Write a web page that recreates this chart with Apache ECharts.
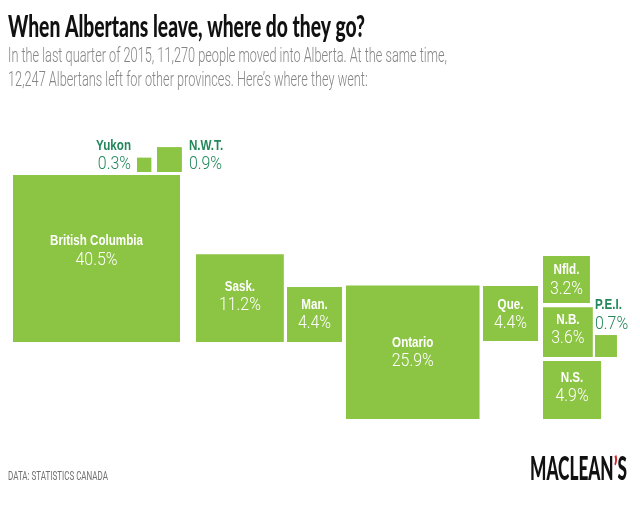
<!DOCTYPE html>
<html><head><meta charset="utf-8">
<script src="https://cdn.jsdelivr.net/npm/echarts@6/dist/echarts.min.js"></script>
<style>html,body{margin:0;padding:0;background:#fff}#c{width:640px;height:507px}</style>
</head><body><div id="c"></div>
<script>
// ---- data ----
const provinces = ['British Columbia','Yukon','N.W.T.','Sask.','Man.','Ontario','Que.','Nfld.','N.B.','P.E.I.','N.S.'];
const shares = [40.5, 0.3, 0.9, 11.2, 4.4, 25.9, 4.4, 3.2, 3.6, 0.7, 4.9];

// ---- layout (square anchor: left edge, bottom edge, in pixel-like axis units) ----
const anchors = [[13,342],[137,172],[157,172],[196,342],[287,342],[346,419],[483,341],[543,303],[543,357],[595,357],[543,419]];
const labelSide = ['in','left','right','in','in','in','in','in','in','top','in'];
const labelShift = [-8,0,0,-2,0,0,1,0,-3,0,-3];

const GREEN = '#8cc443', DARK = '#23875b';
const K = 26.24; // side length per sqrt(percent)

const ctx = document.createElement('canvas').getContext('2d');
function tw(t, font){ ctx.font = font; return ctx.measureText(t).width; }

const NAME_FONT = 'bold 15px "Liberation Sans", Arial, sans-serif';
const PCT_FONT = '300 18px Roboto, "Liberation Sans", sans-serif';
const TITLE_FONT = '900 31px Lato, "Liberation Sans", sans-serif';
const SUB_FONT = '300 19.5px Roboto, "Liberation Sans", sans-serif';
const FOOT_FONT = '400 12px Roboto, "Liberation Sans", sans-serif';
const LOGO_FONT = '900 32px Lato, "Liberation Sans", sans-serif';

const nameScale = 93 / tw('British Columbia', NAME_FONT);
const pctScale = 42 / tw('40.5%', PCT_FONT);
const titleText = 'When Albertans leave, where do they go?';
const sub1 = 'In the last quarter of 2015, 11,270 people moved into Alberta. At the same time,';
const sub2 = '12,247 Albertans left for other provinces. Here\u2019s where they went:';
const titleScale = 357 / tw(titleText, TITLE_FONT);
const subScale = 439 / tw(sub1, SUB_FONT);
const footText = 'DATA: STATISTICS CANADA';
const footScale = 100 / tw(footText, FOOT_FONT);
const logoScale = 97 / tw('MACLEAN\u2019S', LOGO_FONT);

function txt(x, y, text, font, fill, align, scale){
  return {type:'text', x:x, y:y, scaleX:scale, silent:true,
    style:{text:text, font:font, fill:fill, align:align, verticalAlign:'middle'}};
}

const data = shares.map((v,i) => [anchors[i][0], anchors[i][1], v]);

const chart = echarts.init(document.getElementById('c'), null, {renderer:'canvas'});
chart.setOption({
  animation:false,
  backgroundColor:'#fff',
  grid:{left:0, top:0, right:0, bottom:0},
  xAxis:{type:'value', min:0, max:640, show:false},
  yAxis:{type:'value', min:0, max:507, inverse:true, show:false},
  graphic:[
    {type:'text', x:8, y:27, scaleX:titleScale, silent:true,
     style:{text:titleText, font:TITLE_FONT, fill:'#111', align:'left', verticalAlign:'middle'}},
    {type:'text', x:8, y:57, scaleX:subScale, silent:true,
     style:{text:sub1, font:SUB_FONT, fill:'#858585', align:'left', verticalAlign:'middle'}},
    {type:'text', x:8, y:81, scaleX:subScale, silent:true,
     style:{text:sub2, font:SUB_FONT, fill:'#858585', align:'left', verticalAlign:'middle'}},
    {type:'text', x:8, y:477, scaleX:footScale, silent:true,
     style:{text:footText, font:FOOT_FONT, fill:'#6f6f6f', align:'left', verticalAlign:'middle'}},
    {type:'text', x:530, y:470, scaleX:logoScale, silent:true,
     style:{text:'{a|MACLEAN}{r|\u2019}{a|S}', font:LOGO_FONT, align:'left', verticalAlign:'middle',
       rich:{a:{font:LOGO_FONT, fill:'#111'}, r:{font:LOGO_FONT, fill:'#d6202a'}}}}
  ],
  series:[{
    type:'custom',
    coordinateSystem:'cartesian2d',
    data:data,
    renderItem:function(params, api){
      const i = params.dataIndex;
      const v = api.value(2);
      const side = K * Math.sqrt(v);
      const p = api.coord([api.value(0), api.value(1)]);
      const sz = api.size([side, side]);
      const x = p[0], w = sz[0], h = sz[1], y = p[1] - h;
      const name = provinces[i], pct = v.toFixed(1) + '%';
      const ch = [{type:'rect', shape:{x:x, y:y, width:w, height:h}, style:{fill:GREEN}}];
      const mode = labelSide[i];
      if (mode === 'in') {
        const cx = x + w/2, cy = y + h/2 + labelShift[i];
        ch.push(txt(cx, cy - 9.5, name, NAME_FONT, '#fff', 'center', nameScale));
        ch.push(txt(cx, cy + 9.5, pct, PCT_FONT, '#fff', 'center', pctScale));
      } else if (mode === 'left') {
        ch.push(txt(x - 6, y + h - 26, name, NAME_FONT, DARK, 'right', nameScale));
        ch.push(txt(x - 6, y + h - 8, pct, PCT_FONT, DARK, 'right', pctScale));
      } else if (mode === 'right') {
        ch.push(txt(x + w + 7, y + h - 26, name, NAME_FONT, DARK, 'left', nameScale));
        ch.push(txt(x + w + 7, y + h - 8, pct, PCT_FONT, DARK, 'left', pctScale));
      } else {
        ch.push(txt(x, y - 30, name, NAME_FONT, DARK, 'left', nameScale));
        ch.push(txt(x, y - 11, pct, PCT_FONT, DARK, 'left', pctScale));
      }
      return {type:'group', children:ch};
    }
  }]
});
</script></body></html>
